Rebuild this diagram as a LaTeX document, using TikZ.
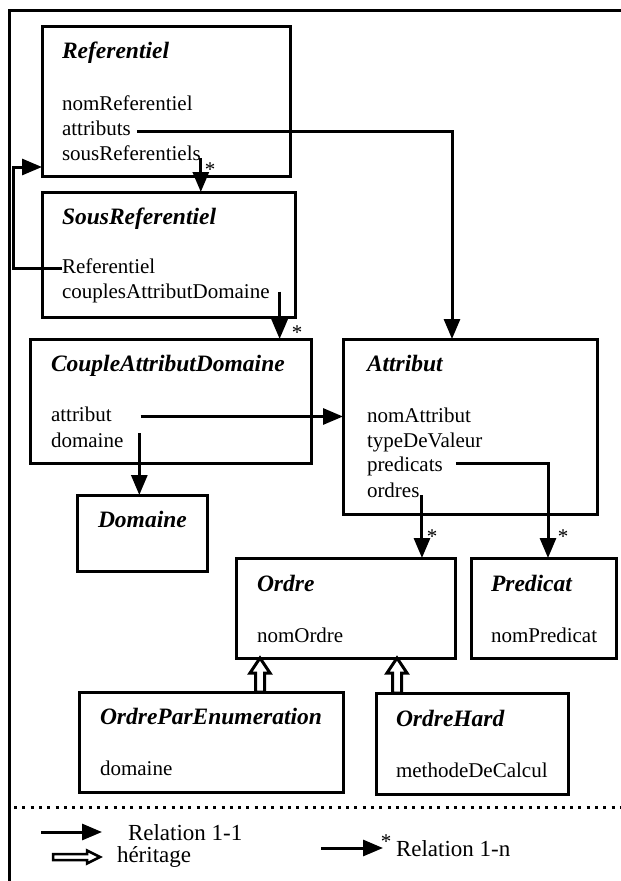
\documentclass[tikz,border=0pt]{standalone}
\usepackage{fontspec}
\setmainfont{Liberation Serif}
\usetikzlibrary{arrows.meta,calc}

% upward hollow inheritance arrow: #1 = base point, #2 = tip point (same x)
\newcommand\isaup[2]{%
  \draw[isa] (#2) -- ++(10,15) -- ++(-5.5,0) -- ($(#1)+(4.5,0)$)
    -- ($(#1)+(-4.5,0)$) -- ($(#2)+(-4.5,15)$) -- ++(-5.5,0) -- cycle;}

\begin{document}
\begin{tikzpicture}[x=1pt,y=-1pt,
  every node/.style={inner sep=0pt,outer sep=0pt},
  cls/.style={draw,line width=3pt,anchor=north west},
  ttl/.style={anchor=base west,font=\fontsize{23.5}{28}\selectfont\bfseries\itshape},
  fld/.style={anchor=base west,font=\fontsize{21}{25}\selectfont},
  card/.style={anchor=base,font=\fontsize{21}{25}\selectfont},
  lgd/.style={anchor=base west,font=\fontsize{23}{27}\selectfont},
  link/.style={line width=3pt,-{Triangle[length=20pt,width=16pt]}},
  isa/.style={draw,line width=3pt,fill=white,line join=miter},
]
\useasboundingbox (0,0) rectangle (621,881);

% frame and separator
\draw[line width=3pt] (9,881) -- (9,10) -- (621,10);
\draw[line width=3pt,dash pattern=on 3pt off 5.3pt] (14,807) -- (621,807);

% classes
\node[cls,minimum width=248pt,minimum height=150pt] (ref)   at (42,26)   {};
\node[cls,minimum width=253pt,minimum height=125pt] (sref)  at (42,192)  {};
\node[cls,minimum width=281pt,minimum height=124pt] (cad)   at (30,339)  {};
\node[cls,minimum width=254pt,minimum height=175pt] (att)   at (343,339) {};
\node[cls,minimum width=130pt,minimum height=76pt]  (dom)   at (77,495)  {};
\node[cls,minimum width=219pt,minimum height=100pt] (ord)   at (236,558) {};
\node[cls,minimum width=145pt,minimum height=100pt] (pred)  at (471,558) {};
\node[cls,minimum width=264pt,minimum height=100pt] (ope)   at (79,692)  {};
\node[cls,minimum width=192pt,minimum height=101pt] (ohard) at (376,693) {};

% class names and fields
\node[ttl] (refT) at (62,58) {Referentiel};
\node[fld] (refA1) at (62,110) {nomReferentiel};
\node[fld] (refA2) at (62,135) {attributs};
\node[fld] (refA3) at (62,160) {sousReferentiels};

\node[ttl] (srT) at (62,224) {SousReferentiel};
\node[fld] (srA1) at (62,273) {Referentiel};
\node[fld] (srA2) at (62,298.5) {couplesAttributDomaine};

\node[ttl] (cadT) at (51,371) {CoupleAttributDomaine};
\node[fld] (cadA1) at (51,421) {attribut};
\node[fld] (cadA2) at (51,447) {domaine};

\node[ttl] (attT) at (367,371) {Attribut};
\node[fld] (attA1) at (367,422) {nomAttribut};
\node[fld] (attA2) at (367,447) {typeDeValeur};
\node[fld] (attA3) at (367,471.5) {predicats};
\node[fld] (attA4) at (367,497) {ordres};

\node[ttl] (domT) at (98,527) {Domaine};

\node[ttl] (ordT) at (257,591) {Ordre};
\node[fld] (ordA1) at (257,642) {nomOrdre};

\node[ttl] (predT) at (491,591) {Predicat};
\node[fld] (predA1) at (491,642) {nomPredicat};

\node[ttl] (opeT) at (100,724) {OrdreParEnumeration};
\node[fld] (opeA1) at (100,775) {domaine};

\node[ttl] (ohT) at (396,726) {OrdreHard};
\node[fld] (ohA1) at (396,777) {methodeDeCalcul};

% associations
\coordinate (o1) at ($(refA3.base east)+(0,-2)$);
\draw[link] (o1) -- (o1 |- sref.north);
\coordinate (o2) at ($(refA2.base east)+(6,-3.5)$);
\draw[link] (o2) -| ([xshift=109pt]att.north west);
\coordinate (o3) at ($(srA1.base west)+(0,-5)$);
\coordinate (loopX) at (13,220);
\draw[link] (o3) -| (loopX) |- ([yshift=9pt]ref.south west);
\coordinate (o4) at ($(srA2.base east)+(10,-7)$);
\draw[link] (o4) -- (o4 |- cad.north);
\coordinate (o5) at ($(cadA1.base east)+(29,-4.5)$);
\draw[link] (o5) -- (o5 -| att.west);
\coordinate (o6) at ($(cadA2.base east)+(16,-14)$);
\draw[link] (o6) -- (o6 |- dom.north);
\coordinate (o7) at ($(attA3.base east)+(13,-8.5)$);
\draw[link] (o7) -| ([xshift=77pt]pred.north west);
\coordinate (o8) at ($(attA4.base east)+(2.5,-2)$);
\draw[link] (o8) -- (o8 |- ord.north);

% multiplicities
\node[card] (s1) at (210,176.5) {*};
\node[card] (s2) at (297,339.5) {*};
\node[card] (s3) at (432,543.5) {*};
\node[card] (s4) at (563,543.5) {*};

% inheritance
\coordinate (i1b) at ([xshift=181pt]ope.north west);
\coordinate (i1t) at (i1b |- ord.south);
\isaup{i1b}{i1t}
\coordinate (i2b) at ([xshift=21pt]ohard.north west);
\coordinate (i2t) at (i2b |- ord.south);
\isaup{i2b}{i2t}

% legend
\coordinate (l1a) at (41,832);
\coordinate (l1b) at (102,832);
\draw[link] (l1a) -- (l1b);
\node[lgd] (l1t) at (128,840) {Relation 1-1};

\coordinate (lh1) at (53,857);
\coordinate (lh2) at (100,857);
\draw[isa,line width=2.5pt] (lh2) -- ++(-13,-6.5) -- ++(0,3.5) -- ($(lh1)+(0,-3)$)
  -- ($(lh1)+(0,3)$) -- ($(lh2)+(-13,3)$) -- ++(0,3.5) -- cycle;
\node[lgd] (l2t) at (117,862) {héritage};

\coordinate (l3a) at (321,848);
\coordinate (l3b) at (383,848);
\draw[link] (l3a) -- (l3b);
\node[card] (s5) at (386,848.5) {*};
\node[lgd] (l3t) at (396,856) {Relation 1-n};
\end{tikzpicture}
\end{document}
